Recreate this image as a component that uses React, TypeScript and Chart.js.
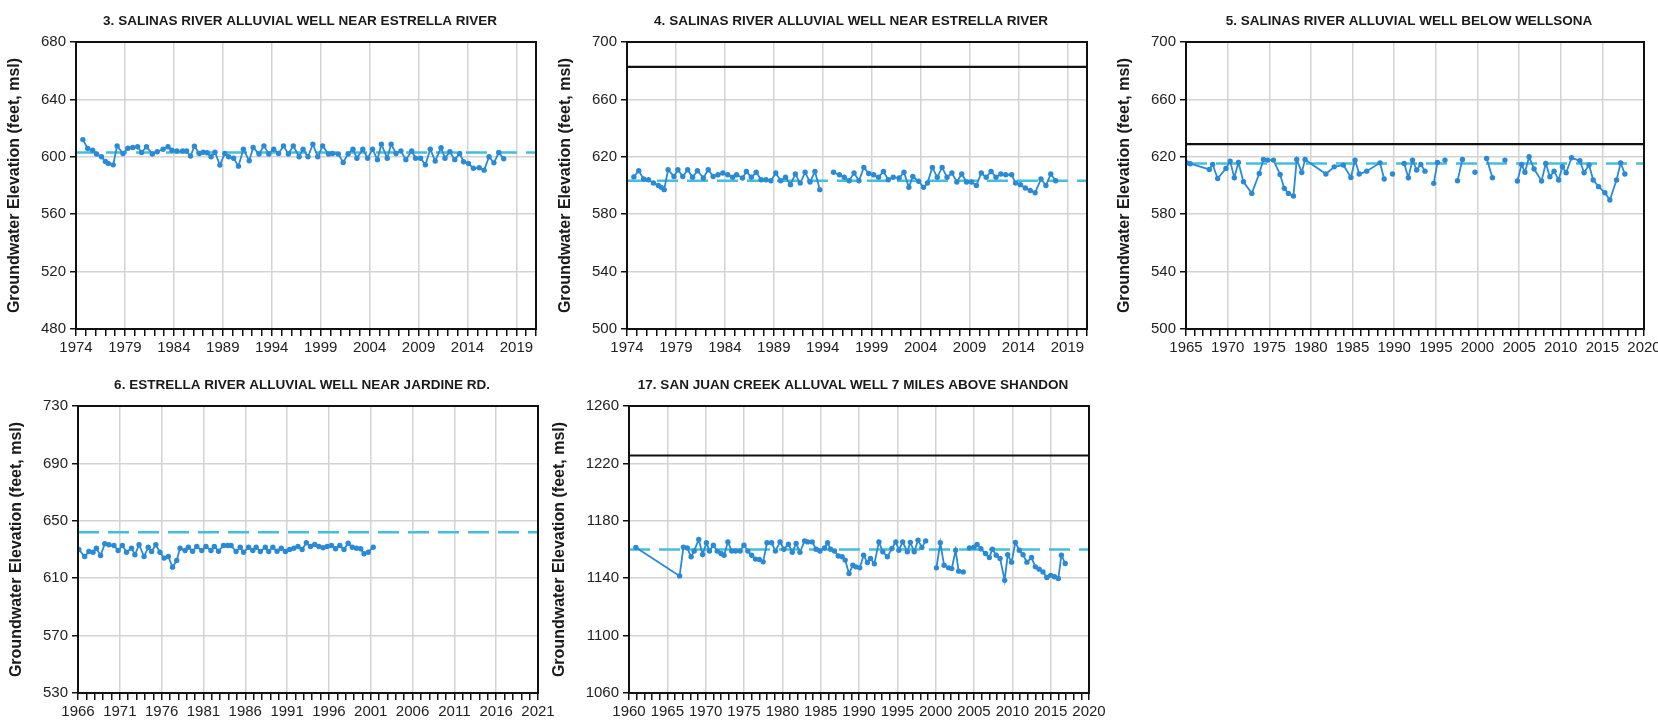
import React, { useEffect, useRef } from 'react';
import { Chart, registerables } from 'chart.js';

Chart.register(...registerables);

// ---------------- DATA ----------------
const TITLES = [
  '3. SALINAS RIVER ALLUVIAL WELL NEAR ESTRELLA RIVER',
  '4. SALINAS RIVER ALLUVIAL WELL NEAR ESTRELLA RIVER',
  '5. SALINAS RIVER ALLUVIAL WELL BELOW WELLSONA',
  '6. ESTRELLA RIVER ALLUVIAL WELL NEAR JARDINE RD.',
  '17. SAN JUAN CREEK ALLUVAL WELL 7 MILES ABOVE SHANDON',
];
const Y_TITLE = 'Groundwater Elevation (feet, msl)';

const X_MIN = [1974, 1974, 1965, 1966, 1960];
const X_MAX = [2021, 2021, 2020, 2021, 2020];
const Y_MIN = [480, 500, 500, 530, 1060];
const Y_MAX = [680, 700, 700, 730, 1260];
const Y_STEP = [40, 40, 40, 40, 40];
const DASHED_LEVEL = [603, 603.3, 615.4, 642, 1160];
const SOLID_LEVEL: (number | null)[] = [null, 682.6, 628.9, null, 1225.5];

const WELL3_YEARS = [
  1974.7, 1975.2, 1975.7, 1976.1, 1976.6, 1977.0, 1977.3, 1977.8, 1978.2, 1978.8,
  1979.3, 1979.8, 1980.3, 1980.7, 1981.2, 1981.8, 1982.3, 1982.9, 1983.4, 1983.8,
  1984.3, 1984.9, 1985.3, 1985.7, 1986.1, 1986.6, 1987.0, 1987.4, 1987.8, 1988.2,
  1988.7, 1989.2, 1989.6, 1990.1, 1990.6, 1991.1, 1991.7, 1992.1, 1992.7, 1993.2,
  1993.7, 1994.2, 1994.7, 1995.2, 1995.7, 1996.2, 1996.8, 1997.2, 1997.7, 1998.2,
  1998.7, 1999.2, 1999.8, 2000.2, 2000.8, 2001.3, 2001.8, 2002.3, 2002.7, 2003.3,
  2003.8, 2004.3, 2004.8, 2005.2, 2005.8, 2006.2, 2006.7, 2007.2, 2007.7, 2008.3,
  2008.7, 2009.2, 2009.7, 2010.2, 2010.7, 2011.3, 2011.7, 2012.2, 2012.7, 2013.2,
  2013.6, 2014.1, 2014.6, 2015.2, 2015.7, 2016.2, 2016.7, 2017.2, 2017.7,
];
const WELL3_LEVELS = [
  612, 605.8, 604.6, 602, 600, 596.8, 595.4, 594.4, 607.6, 602.3,
  606, 606.5, 607, 603, 607, 602, 603.5, 605.3, 607, 604.6,
  604, 604, 604, 600.5, 607.4, 602.3, 603.2, 602.8, 600, 603.2,
  594.2, 602.3, 600, 599, 593.5, 605.3, 597.2, 606.5, 602, 607.6,
  602, 605.3, 602.3, 607.6, 602, 607.6, 600, 605.3, 600, 608.8,
  600, 607.6, 602, 602.3, 602, 596, 602, 605.3, 599, 605.3,
  599, 605.3, 598, 608.8, 599, 608.8, 602.3, 604, 598, 604,
  599, 599, 594.4, 605.3, 597, 606.3, 599, 603.5, 598, 602.3,
  596.5, 595.4, 592, 592.4, 590.7, 600, 595.8, 603, 598.6,
];

const WELL4_YEARS = [
  1974.7, 1975.2, 1975.7, 1976.2, 1976.7, 1977.2, 1977.5, 1977.8, 1978.2, 1978.8,
  1979.2, 1979.7, 1980.2, 1980.7, 1981.2, 1981.8, 1982.3, 1982.8, 1983.3, 1983.8,
  1984.3, 1984.8, 1985.2, 1985.8, 1986.2, 1986.7, 1987.2, 1987.7, 1988.2, 1988.7,
  1989.2, 1989.7, 1990.2, 1990.7, 1991.2, 1991.7, 1992.2, 1992.7, 1993.2, 1993.7,
  1994.4, 1995.1, 1995.7, 1996.2, 1996.7, 1997.2, 1997.7, 1998.2, 1998.7, 1999.2,
  1999.7, 2000.2, 2000.7, 2001.2, 2001.8, 2002.3, 2002.8, 2003.2, 2003.8, 2004.3,
  2004.7, 2005.2, 2005.7, 2006.2, 2006.7, 2007.2, 2007.7, 2008.2, 2008.7, 2009.2,
  2009.7, 2010.2, 2010.7, 2011.2, 2011.7, 2012.2, 2012.7, 2013.3, 2013.7, 2014.2,
  2014.7, 2015.2, 2015.7, 2016.3, 2016.8, 2017.3, 2017.8,
];
const WELL4_LEVELS: (number | null)[] = [
  606, 610.3, 604.5, 604, 601.7, 600, 598.7, 597.1, 611, 606.3,
  611, 606.3, 611, 605.7, 610.3, 605.2, 611, 606.3, 607.5, 608.7,
  607.5, 605.7, 607.5, 605.2, 609.8, 605.7, 609.2, 604, 604, 603.3,
  608.7, 603.3, 605.7, 600.6, 608, 601.7, 609.2, 602.4, 609.8, 597.1,
  null, 609.2, 607.5, 605.7, 603.3, 608.7, 603.3, 612.6, 608.4, 607.5,
  605.7, 609.8, 604, 605.7, 605.2, 609.2, 598.7, 606.3, 603, 598.7,
  601.7, 612.6, 605.7, 612.6, 605.7, 608.7, 602.4, 608, 602.4, 602.4,
  600, 608.7, 605.7, 609.8, 605.7, 608, 607.5, 607.5, 601.7, 600.6,
  598.3, 596.5, 595, 604.5, 600, 608, 603.3,
];

const WELL5_YEARS = [
  1965.1, 1965.5, 1967.8, 1968.2, 1968.8, 1969.8, 1970.3, 1970.8, 1971.3, 1971.9,
  1972.9, 1973.8, 1974.3, 1974.8, 1975.5, 1976.3, 1976.8, 1977.3, 1977.9, 1978.3,
  1978.9, 1979.3, 1981.8, 1982.8, 1983.9, 1984.8, 1985.3, 1985.8, 1986.7, 1988.3,
  1988.8, 1989.3, 1989.8, 1990.5, 1991.2, 1991.7, 1992.2, 1992.7, 1993.2, 1993.7,
  1994.2, 1994.75, 1995.2, 1995.6, 1996.1, 1997.0, 1997.6, 1998.2, 1999.0, 1999.7,
  2000.5, 2001.1, 2001.8, 2002.5, 2003.3, 2004.2, 2004.8, 2005.3, 2005.7, 2006.2,
  2006.8, 2007.7, 2008.2, 2008.7, 2009.2, 2009.75, 2010.2, 2010.65, 2011.3, 2012.3,
  2012.8, 2013.4, 2013.9, 2014.55, 2015.3, 2015.9, 2016.7, 2017.2, 2017.7,
];
const WELL5_LEVELS: (number | null)[] = [
  615.8, 615.2, 611.2, 614.7, 604.9, 611.9, 617.0, 605.4, 616.0, 602.6,
  594.5, 608.4, 618.1, 617.7, 617.7, 607.7, 598.0, 594.5, 592.7, 618.1,
  609.1, 618.1, 608.0, 613.0, 614.2, 605.6, 617.7, 608.0, 610.0, 615.8,
  604.5, null, 608.0, null, 615.4, 605.4, 617.7, 610.8, 614.7, 610.0,
  null, 601.5, 616.1, null, 617.7, null, 603.3, 618.2, null, 609.2,
  null, 618.9, 605.4, null, 617.7, null, 603.1, 614.7, 609.2, 620.0,
  611.5, 603.1, 615.4, 606.1, 610.0, 603.8, 613.1, 608.9, 619.3, 617.2,
  608.9, 614.3, 603.8, 599.2, 595.0, 589.9, 603.8, 615.8, 608.0,
];

const WELL6_YEARS = [
  1966.1, 1966.8, 1967.3, 1967.8, 1968.2, 1968.7, 1969.2, 1969.7, 1970.3, 1970.8,
  1971.3, 1971.8, 1972.4, 1972.8, 1973.3, 1973.9, 1974.4, 1974.8, 1975.3, 1975.8,
  1976.3, 1976.8, 1977.3, 1977.8, 1978.2, 1978.8, 1979.2, 1979.7, 1980.2, 1980.8,
  1981.3, 1981.9, 1982.3, 1982.8, 1983.4, 1983.9, 1984.3, 1984.9, 1985.4, 1985.8,
  1986.4, 1986.9, 1987.3, 1987.8, 1988.4, 1988.8, 1989.3, 1989.8, 1990.3, 1990.8,
  1991.3, 1991.8, 1992.3, 1992.8, 1993.3, 1993.8, 1994.3, 1994.8, 1995.3, 1995.8,
  1996.3, 1996.8, 1997.3, 1997.8, 1998.3, 1998.8, 1999.3, 1999.8, 2000.2, 2000.7,
  2001.3,
];
const WELL6_LEVELS = [
  630.0, 625.1, 628.6, 628.1, 630.9, 625.8, 634.0, 633.3, 632.8, 629.3,
  632.8, 628.1, 630.9, 626.3, 633.3, 625.1, 631.6, 628.6, 633.3, 628.1,
  624.0, 625.1, 617.7, 622.3, 630.9, 629.3, 631.6, 628.8, 632.1, 629.3,
  632.1, 629.3, 632.1, 628.8, 632.8, 632.8, 632.8, 628.6, 631.6, 628.1,
  631.6, 629.3, 631.6, 628.6, 631.6, 628.6, 631.6, 628.8, 630.9, 628.6,
  630.0, 630.9, 632.1, 630.0, 634.7, 632.1, 633.5, 632.1, 631.2, 632.1,
  632.8, 630.5, 632.8, 630.0, 634.4, 631.6, 630.9, 630.5, 627.0, 628.1,
  631.6,
];

const WELL17_YEARS = [
  1960.9, 1966.6, 1967.1, 1967.6, 1968.1, 1968.5, 1969.1, 1969.6, 1970.1, 1970.5,
  1971.0, 1971.5, 1972.0, 1972.4, 1972.9, 1973.4, 1973.9, 1974.5, 1975.0, 1975.5,
  1976.0, 1976.5, 1977.0, 1977.5, 1978.0, 1978.6, 1979.1, 1979.7, 1980.2, 1980.8,
  1981.3, 1981.8, 1982.3, 1982.9, 1983.3, 1983.9, 1984.4, 1984.9, 1985.5, 1985.9,
  1986.3, 1986.8, 1987.3, 1987.8, 1988.2, 1988.7, 1989.2, 1989.6, 1990.1, 1990.6,
  1991.1, 1991.5, 1992.0, 1992.6, 1993.1, 1993.7, 1994.3, 1994.8, 1995.2, 1995.7,
  1996.3, 1996.7, 1997.2, 1997.7, 1998.2, 1998.7, 1999.4, 2000.1, 2000.6, 2001.1,
  2001.7, 2002.1, 2002.6, 2003.0, 2003.6, 2004.0, 2004.4, 2005.0, 2005.4, 2005.9,
  2006.5, 2007.0, 2007.4, 2007.9, 2008.4, 2009.0, 2009.4, 2009.9, 2010.4, 2010.9,
  2011.4, 2011.9, 2012.5, 2013.0, 2013.5, 2014.0, 2014.5, 2015.0, 2015.5, 2016.0,
  2016.4, 2016.9,
];
const WELL17_LEVELS: (number | null)[] = [
  1161.4, 1141.6, 1161.6, 1161, 1154.9, 1159, 1167, 1156.5, 1164.7, 1159,
  1163, 1159, 1157.2, 1156, 1165.3, 1159, 1159, 1159, 1163, 1159,
  1156, 1153.3, 1153, 1151.4, 1164.7, 1164.7, 1159, 1165.3, 1160.2, 1163.7,
  1158, 1164.2, 1158, 1166, 1165.3, 1165.3, 1160.2, 1159, 1161, 1164.7,
  1160.2, 1159, 1155.5, 1154.9, 1152.6, 1143.3, 1149, 1147.9, 1147.2, 1156,
  1150.9, 1153.7, 1150, 1165.3, 1158.4, 1154.9, 1160.7, 1165.3, 1159.5, 1165.3,
  1158.4, 1165, 1158.4, 1166.5, 1161.4, 1166, null, 1147.2, 1164.7, 1149,
  1147.2, 1146.7, 1159.5, 1144.9, 1144.4, null, 1161, 1161.6, 1163.5, 1160.5,
  1157.2, 1154.4, 1160.2, 1156, 1153.7, 1138.6, 1156.3, 1151.2, 1165, 1159.5,
  1156.3, 1151.2, 1154.4, 1147.9, 1146.3, 1144.4, 1140.5, 1142, 1141, 1139.8,
  1156, 1150.2,
];

const SERIES_YEARS = [WELL3_YEARS, WELL4_YEARS, WELL5_YEARS, WELL6_YEARS, WELL17_YEARS];
const SERIES_LEVELS: (number | null)[][] = [WELL3_LEVELS, WELL4_LEVELS, WELL5_LEVELS, WELL6_LEVELS, WELL17_LEVELS];

// ---------------- LAYOUT / STYLE ----------------
const PLOT_BOXES = [
  { left: 76, top: 42, width: 460, height: 287, yTitleGap: 61 },
  { left: 627, top: 42, width: 460, height: 287, yTitleGap: 61 },
  { left: 1186, top: 42, width: 458, height: 287, yTitleGap: 61 },
  { left: 78, top: 406, width: 460, height: 287, yTitleGap: 61 },
  { left: 629, top: 406, width: 460, height: 287, yTitleGap: 69 },
];
const Y_AXIS_W = 80;
const X_AXIS_H = 32;
const TOP_PAD = 42;
const RIGHT_PAD = 26;
const FONT = '"Liberation Sans", Arial, Helvetica, sans-serif';
const GRID = '#d3d3d3';
const AXIS = '#111111';
const LINE_BLUE = '#2b8ad6';
const DASH_CYAN = '#45bedc';

const framePlugin = {
  id: 'frameTitle',
  afterDraw(chart: any, _args: any, opts: any) {
    const { ctx, chartArea: a } = chart;
    ctx.save();
    ctx.strokeStyle = AXIS;
    ctx.lineWidth = 2;
    ctx.strokeRect(a.left, a.top, a.right - a.left, a.bottom - a.top);
    ctx.fillStyle = '#1a1a1a';
    ctx.font = `bold 13.5px ${FONT}`;
    ctx.textAlign = 'center';
    ctx.textBaseline = 'middle';
    ctx.fillText(opts.text, (a.left + a.right) / 2 - 6, a.top - 21);
    ctx.restore();
  },
};

function Panel({ index }: { index: number }) {
  const ref = useRef<HTMLCanvasElement | null>(null);
  const box = PLOT_BOXES[index];
  const cw = Y_AXIS_W + box.width + RIGHT_PAD;
  const chh = TOP_PAD + box.height + X_AXIS_H;
  const cl = box.left - Y_AXIS_W;
  const ct = box.top - TOP_PAD;

  useEffect(() => {
    if (!ref.current) return;
    const xMin = X_MIN[index];
    const xMax = X_MAX[index];
    const years = SERIES_YEARS[index];
    const levels = SERIES_LEVELS[index];
    const pts = years.map((x, i) => ({ x, y: levels[i] }));
    const datasets: any[] = [
      {
        data: pts,
        borderColor: LINE_BLUE,
        backgroundColor: LINE_BLUE,
        pointBackgroundColor: LINE_BLUE,
        pointBorderWidth: 0,
        pointRadius: 2.7,
        borderWidth: 1.8,
        spanGaps: false,
        tension: 0,
        order: 0,
      },
      {
        data: [{ x: xMin, y: DASHED_LEVEL[index] }, { x: xMax, y: DASHED_LEVEL[index] }],
        borderColor: DASH_CYAN,
        borderWidth: 2.5,
        borderDash: [21, 9],
        pointRadius: 0,
        order: 2,
      },
    ];
    const solid = SOLID_LEVEL[index];
    if (solid !== null) {
      datasets.push({
        data: [{ x: xMin, y: solid }, { x: xMax, y: solid }],
        borderColor: AXIS,
        borderWidth: 2.2,
        pointRadius: 0,
        order: 1,
      });
    }
    const titlePad = Y_AXIS_W - 9.6 - box.yTitleGap;
    const chart = new Chart(ref.current, {
      type: 'line',
      data: { datasets },
      plugins: [framePlugin],
      options: {
        responsive: false,
        animation: false,
        devicePixelRatio: 1,
        layout: { padding: { top: TOP_PAD, right: RIGHT_PAD, left: 0, bottom: 0 } },
        plugins: {
          legend: { display: false },
          tooltip: { enabled: false },
          title: { display: false },
          frameTitle: { text: TITLES[index] },
        } as any,
        scales: {
          x: {
            type: 'linear',
            min: xMin,
            max: xMax,
            afterFit: (s: any) => { s.height = X_AXIS_H; },
            ticks: {
              stepSize: 1,
              maxTicksLimit: 200,
              autoSkip: false,
              maxRotation: 0,
              minRotation: 0,
              padding: 3,
              color: '#222',
              font: { family: FONT, size: 15 },
              callback: (v: any) => {
                const n = Math.round(Number(v));
                return (n - xMin) % 5 === 0 ? String(n) : '';
              },
            },
            grid: {
              color: (c: any) => {
                if (!c.tick) return GRID;
                const n = Math.round(c.tick.value);
                return (n - xMin) % 5 === 0 ? GRID : 'rgba(0,0,0,0)';
              },
              lineWidth: 1.5,
              tickColor: AXIS,
              tickWidth: 1.5,
              tickLength: 7,
            },
            border: { color: AXIS, width: 2 },
          },
          y: {
            type: 'linear',
            min: Y_MIN[index],
            max: Y_MAX[index],
            afterFit: (s: any) => { s.width = Y_AXIS_W; },
            ticks: {
              stepSize: Y_STEP[index],
              padding: 4,
              color: '#222',
              font: { family: FONT, size: 15 },
              callback: (v: any) => String(Math.round(Number(v))),
            },
            grid: {
              color: GRID,
              lineWidth: 1.5,
              tickColor: AXIS,
              tickWidth: 1.5,
              tickLength: 6,
            },
            border: { color: AXIS, width: 2 },
            title: {
              display: true,
              text: Y_TITLE,
              color: '#1a1a1a',
              font: { family: FONT, size: 16, weight: 'bold' },
              padding: { top: titlePad, bottom: 0 },
            },
          },
        },
      } as any,
    });
    return () => chart.destroy();
  }, [index]);

  return (
    <canvas
      ref={ref}
      width={cw}
      height={chh}
      style={{ position: 'absolute', left: cl, top: ct, width: cw, height: chh }}
    />
  );
}

export default function App() {
  return (
    <div style={{ position: 'absolute', left: 0, top: 0, width: 1658, height: 726, background: '#ffffff', overflow: 'hidden' }}>
      {PLOT_BOXES.map((_, i) => (
        <Panel key={i} index={i} />
      ))}
    </div>
  );
}
